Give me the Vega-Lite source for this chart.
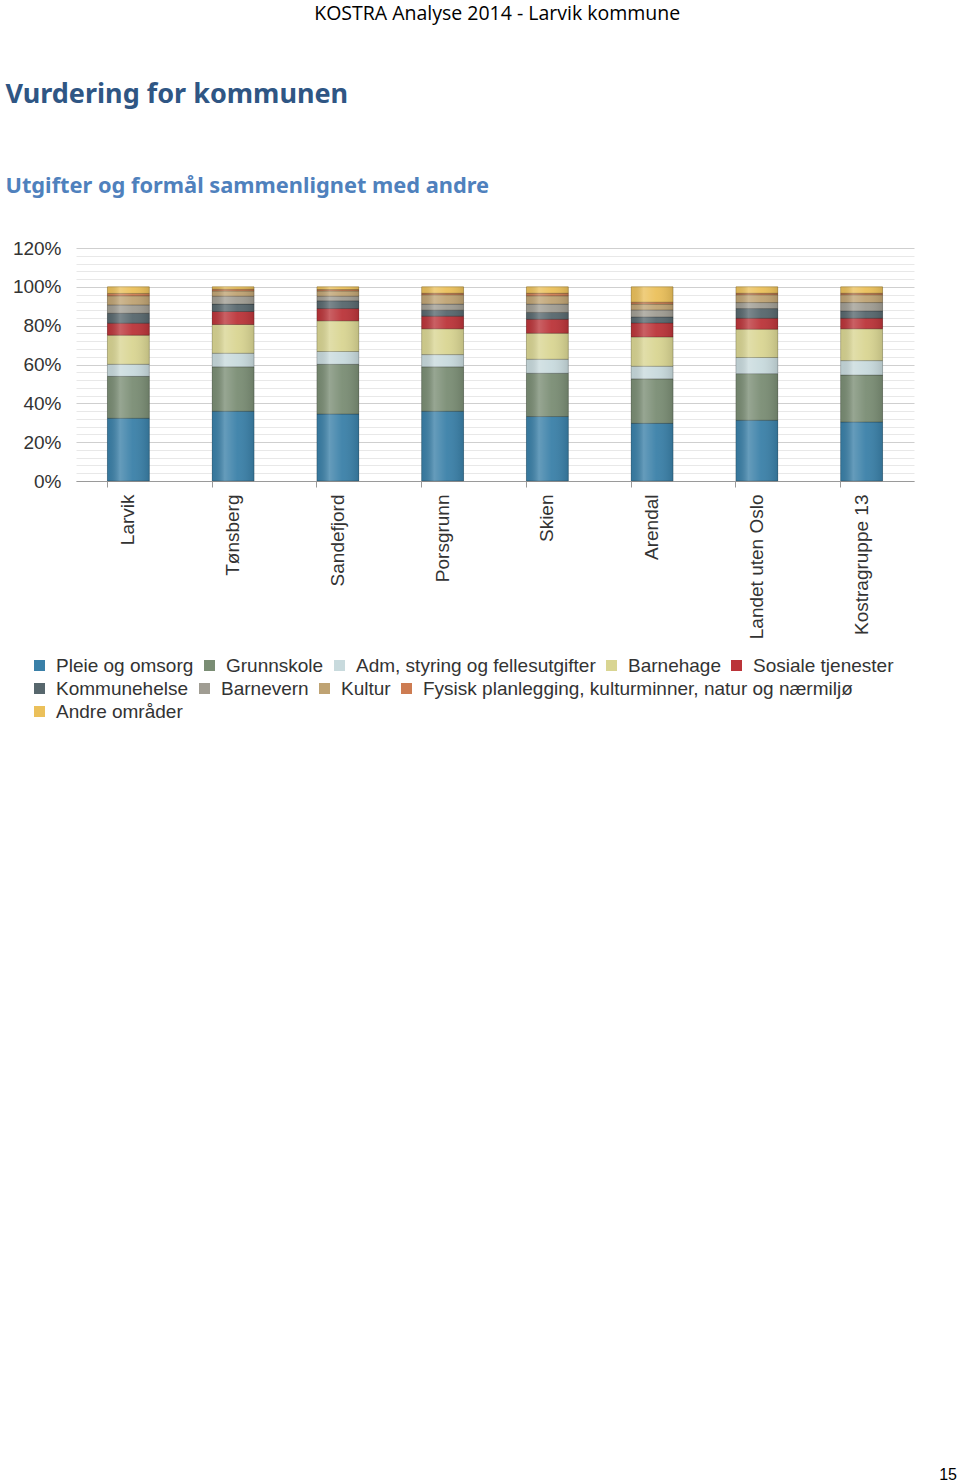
{
  "$schema": "https://vega.github.io/schema/vega-lite/v6.json",
  "background": "white",
  "padding": {"left": 5, "top": 3, "right": 0, "bottom": 0},
  "config": {"view": {"stroke": null}},
  "title": {"text": "KOSTRA Analyse 2014 - Larvik kommune", "anchor": "middle", "font": "Open Sans", "fontSize": 19.5, "fontWeight": "normal", "color": "#000000", "offset": 57, "dx": 16},
  "spacing": 0,
  "datasets": {
    "utgifter": [
      {"kommune": "Larvik", "nr": 1, "kategori": "Pleie og omsorg", "andel": 32.3},
      {"kommune": "Larvik", "nr": 2, "kategori": "Grunnskole", "andel": 21.6},
      {"kommune": "Larvik", "nr": 3, "kategori": "Adm, styring og fellesutgifter", "andel": 6.2},
      {"kommune": "Larvik", "nr": 4, "kategori": "Barnehage", "andel": 15.0},
      {"kommune": "Larvik", "nr": 5, "kategori": "Sosiale tjenester", "andel": 6.2},
      {"kommune": "Larvik", "nr": 6, "kategori": "Kommunehelse", "andel": 5.1},
      {"kommune": "Larvik", "nr": 7, "kategori": "Barnevern", "andel": 4.3},
      {"kommune": "Larvik", "nr": 8, "kategori": "Kultur", "andel": 4.7},
      {"kommune": "Larvik", "nr": 9, "kategori": "Fysisk planlegging, kulturminner, natur og nærmiljø", "andel": 1.2},
      {"kommune": "Larvik", "nr": 10, "kategori": "Andre områder", "andel": 3.4},
      {"kommune": "Tønsberg", "nr": 1, "kategori": "Pleie og omsorg", "andel": 35.9},
      {"kommune": "Tønsberg", "nr": 2, "kategori": "Grunnskole", "andel": 22.9},
      {"kommune": "Tønsberg", "nr": 3, "kategori": "Adm, styring og fellesutgifter", "andel": 7.0},
      {"kommune": "Tønsberg", "nr": 4, "kategori": "Barnehage", "andel": 14.8},
      {"kommune": "Tønsberg", "nr": 5, "kategori": "Sosiale tjenester", "andel": 6.7},
      {"kommune": "Tønsberg", "nr": 6, "kategori": "Kommunehelse", "andel": 3.8},
      {"kommune": "Tønsberg", "nr": 7, "kategori": "Barnevern", "andel": 4.1},
      {"kommune": "Tønsberg", "nr": 8, "kategori": "Kultur", "andel": 2.7},
      {"kommune": "Tønsberg", "nr": 9, "kategori": "Fysisk planlegging, kulturminner, natur og nærmiljø", "andel": 0.9},
      {"kommune": "Tønsberg", "nr": 10, "kategori": "Andre områder", "andel": 1.2},
      {"kommune": "Sandefjord", "nr": 1, "kategori": "Pleie og omsorg", "andel": 34.5},
      {"kommune": "Sandefjord", "nr": 2, "kategori": "Grunnskole", "andel": 25.6},
      {"kommune": "Sandefjord", "nr": 3, "kategori": "Adm, styring og fellesutgifter", "andel": 6.6},
      {"kommune": "Sandefjord", "nr": 4, "kategori": "Barnehage", "andel": 15.8},
      {"kommune": "Sandefjord", "nr": 5, "kategori": "Sosiale tjenester", "andel": 6.3},
      {"kommune": "Sandefjord", "nr": 6, "kategori": "Kommunehelse", "andel": 4.0},
      {"kommune": "Sandefjord", "nr": 7, "kategori": "Barnevern", "andel": 2.4},
      {"kommune": "Sandefjord", "nr": 8, "kategori": "Kultur", "andel": 2.7},
      {"kommune": "Sandefjord", "nr": 9, "kategori": "Fysisk planlegging, kulturminner, natur og nærmiljø", "andel": 0.7},
      {"kommune": "Sandefjord", "nr": 10, "kategori": "Andre områder", "andel": 1.4},
      {"kommune": "Porsgrunn", "nr": 1, "kategori": "Pleie og omsorg", "andel": 35.9},
      {"kommune": "Porsgrunn", "nr": 2, "kategori": "Grunnskole", "andel": 22.9},
      {"kommune": "Porsgrunn", "nr": 3, "kategori": "Adm, styring og fellesutgifter", "andel": 6.3},
      {"kommune": "Porsgrunn", "nr": 4, "kategori": "Barnehage", "andel": 13.3},
      {"kommune": "Porsgrunn", "nr": 5, "kategori": "Sosiale tjenester", "andel": 6.5},
      {"kommune": "Porsgrunn", "nr": 6, "kategori": "Kommunehelse", "andel": 3.1},
      {"kommune": "Porsgrunn", "nr": 7, "kategori": "Barnevern", "andel": 3.1},
      {"kommune": "Porsgrunn", "nr": 8, "kategori": "Kultur", "andel": 4.8},
      {"kommune": "Porsgrunn", "nr": 9, "kategori": "Fysisk planlegging, kulturminner, natur og nærmiljø", "andel": 0.8},
      {"kommune": "Porsgrunn", "nr": 10, "kategori": "Andre områder", "andel": 3.3},
      {"kommune": "Skien", "nr": 1, "kategori": "Pleie og omsorg", "andel": 33.2},
      {"kommune": "Skien", "nr": 2, "kategori": "Grunnskole", "andel": 22.3},
      {"kommune": "Skien", "nr": 3, "kategori": "Adm, styring og fellesutgifter", "andel": 7.2},
      {"kommune": "Skien", "nr": 4, "kategori": "Barnehage", "andel": 13.4},
      {"kommune": "Skien", "nr": 5, "kategori": "Sosiale tjenester", "andel": 7.2},
      {"kommune": "Skien", "nr": 6, "kategori": "Kommunehelse", "andel": 3.5},
      {"kommune": "Skien", "nr": 7, "kategori": "Barnevern", "andel": 4.3},
      {"kommune": "Skien", "nr": 8, "kategori": "Kultur", "andel": 4.3},
      {"kommune": "Skien", "nr": 9, "kategori": "Fysisk planlegging, kulturminner, natur og nærmiljø", "andel": 1.3},
      {"kommune": "Skien", "nr": 10, "kategori": "Andre områder", "andel": 3.3},
      {"kommune": "Arendal", "nr": 1, "kategori": "Pleie og omsorg", "andel": 29.7},
      {"kommune": "Arendal", "nr": 2, "kategori": "Grunnskole", "andel": 22.9},
      {"kommune": "Arendal", "nr": 3, "kategori": "Adm, styring og fellesutgifter", "andel": 6.5},
      {"kommune": "Arendal", "nr": 4, "kategori": "Barnehage", "andel": 15.1},
      {"kommune": "Arendal", "nr": 5, "kategori": "Sosiale tjenester", "andel": 7.2},
      {"kommune": "Arendal", "nr": 6, "kategori": "Kommunehelse", "andel": 3.1},
      {"kommune": "Arendal", "nr": 7, "kategori": "Barnevern", "andel": 3.6},
      {"kommune": "Arendal", "nr": 8, "kategori": "Kultur", "andel": 3.0},
      {"kommune": "Arendal", "nr": 9, "kategori": "Fysisk planlegging, kulturminner, natur og nærmiljø", "andel": 1.0},
      {"kommune": "Arendal", "nr": 10, "kategori": "Andre områder", "andel": 7.9},
      {"kommune": "Landet uten Oslo", "nr": 1, "kategori": "Pleie og omsorg", "andel": 31.3},
      {"kommune": "Landet uten Oslo", "nr": 2, "kategori": "Grunnskole", "andel": 24.0},
      {"kommune": "Landet uten Oslo", "nr": 3, "kategori": "Adm, styring og fellesutgifter", "andel": 8.3},
      {"kommune": "Landet uten Oslo", "nr": 4, "kategori": "Barnehage", "andel": 14.6},
      {"kommune": "Landet uten Oslo", "nr": 5, "kategori": "Sosiale tjenester", "andel": 5.6},
      {"kommune": "Landet uten Oslo", "nr": 6, "kategori": "Kommunehelse", "andel": 5.0},
      {"kommune": "Landet uten Oslo", "nr": 7, "kategori": "Barnevern", "andel": 3.1},
      {"kommune": "Landet uten Oslo", "nr": 8, "kategori": "Kultur", "andel": 4.0},
      {"kommune": "Landet uten Oslo", "nr": 9, "kategori": "Fysisk planlegging, kulturminner, natur og nærmiljø", "andel": 0.8},
      {"kommune": "Landet uten Oslo", "nr": 10, "kategori": "Andre områder", "andel": 3.3},
      {"kommune": "Kostragruppe 13", "nr": 1, "kategori": "Pleie og omsorg", "andel": 30.4},
      {"kommune": "Kostragruppe 13", "nr": 2, "kategori": "Grunnskole", "andel": 24.2},
      {"kommune": "Kostragruppe 13", "nr": 3, "kategori": "Adm, styring og fellesutgifter", "andel": 7.4},
      {"kommune": "Kostragruppe 13", "nr": 4, "kategori": "Barnehage", "andel": 16.4},
      {"kommune": "Kostragruppe 13", "nr": 5, "kategori": "Sosiale tjenester", "andel": 5.4},
      {"kommune": "Kostragruppe 13", "nr": 6, "kategori": "Kommunehelse", "andel": 3.8},
      {"kommune": "Kostragruppe 13", "nr": 7, "kategori": "Barnevern", "andel": 4.3},
      {"kommune": "Kostragruppe 13", "nr": 8, "kategori": "Kultur", "andel": 4.0},
      {"kommune": "Kostragruppe 13", "nr": 9, "kategori": "Fysisk planlegging, kulturminner, natur og nærmiljø", "andel": 0.8},
      {"kommune": "Kostragruppe 13", "nr": 10, "kategori": "Andre områder", "andel": 3.3}
    ]
  },
  "vconcat": [
    {
      "width": 838,
      "height": 233,
      "title": {
        "text": "Vurdering for kommunen",
        "subtitle": "Utgifter og formål sammenlignet med andre",
        "anchor": "start",
        "frame": "bounds",
        "dx": -7,
        "font": "Noto Sans",
        "fontSize": 27,
        "fontWeight": "bold",
        "color": "#2f5684",
        "subtitleFont": "Noto Sans",
        "subtitleFontSize": 21.8,
        "subtitleFontWeight": "bold",
        "subtitleColor": "#4f81bd",
        "subtitlePadding": 67,
        "offset": 40
      },
      "data": {"name": "utgifter"},
      "encoding": {
        "x": {
          "field": "kommune",
          "type": "nominal",
          "sort": ["Larvik", "Tønsberg", "Sandefjord", "Porsgrunn", "Skien", "Arendal", "Landet uten Oslo", "Kostragruppe 13"],
          "scale": {"paddingInner": 0.6, "paddingOuter": 0.3},
          "axis": {
            "title": null,
            "labelAngle": -90,
            "labelFont": "Liberation Sans",
            "labelFontSize": 19,
            "labelColor": "#333333",
            "labelPadding": 7,
            "domainColor": "#9a9a9a",
            "tickColor": "#9a9a9a",
            "tickSize": 6,
            "bandPosition": 0
          }
        },
        "y": {
          "field": "andel",
          "type": "quantitative",
          "stack": "zero",
          "scale": {"domain": [0, 120], "nice": false},
          "axis": {
            "title": null,
            "values": [0, 4, 8, 12, 16, 20, 24, 28, 32, 36, 40, 44, 48, 52, 56, 60, 64, 68, 72, 76, 80, 84, 88, 92, 96, 100, 104, 108, 112, 116, 120],
            "labelExpr": "datum.value % 20 === 0 ? datum.value + '%' : ''",
            "labelFont": "Liberation Sans",
            "labelFontSize": 19,
            "labelColor": "#333333",
            "labelPadding": 15,
            "domain": false,
            "ticks": false,
            "grid": true,
            "gridColor": {"condition": {"test": "datum.value % 20 === 0", "value": "#cfcfcf"}, "value": "#e8e8e8"},
            "gridWidth": 1
          }
        },
        "order": {"field": "nr", "type": "quantitative", "sort": "ascending"}
      },
      "layer": [
        {
          "mark": {"type": "bar"},
          "encoding": {
            "color": {
              "field": "kategori",
              "type": "nominal",
              "sort": ["Pleie og omsorg", "Grunnskole", "Adm, styring og fellesutgifter", "Barnehage", "Sosiale tjenester", "Kommunehelse", "Barnevern", "Kultur", "Fysisk planlegging, kulturminner, natur og nærmiljø", "Andre områder"],
              "scale": {
                "domain": ["Pleie og omsorg", "Grunnskole", "Adm, styring og fellesutgifter", "Barnehage", "Sosiale tjenester", "Kommunehelse", "Barnevern", "Kultur", "Fysisk planlegging, kulturminner, natur og nærmiljø", "Andre områder"],
                "range": ["#3a80a8", "#7a8d74", "#c8dadd", "#d9d592", "#bb3439", "#57676d", "#a09d93", "#bfa373", "#cd7c52", "#ebc05a"]
              },
              "legend": {
                "title": null,
                "orient": "none",
                "legendX": -46,
                "legendY": 431,
                "direction": "horizontal",
                "columns": 4,
                "gridAlign": "none",
                "values": ["Kommunehelse", "Barnevern", "Kultur", "Fysisk planlegging, kulturminner, natur og nærmiljø", "Andre områder"],
                "symbolType": "square",
                "symbolSize": 121,
                "symbolStrokeWidth": 0,
                "symbolOpacity": 1,
                "labelFont": "Liberation Sans",
                "labelFontSize": 19,
                "labelColor": "#333333",
                "labelOffset": 7,
                "labelLimit": 700,
                "columnPadding": 6,
                "rowPadding": 3,
                "padding": 0
              }
            }
          }
        },
        {
          "mark": {"type": "bar", "stroke": "#000000", "strokeOpacity": 0.22, "strokeWidth": 1},
          "encoding": {
            "color": {
              "field": "kategori",
              "type": "nominal",
              "sort": ["Pleie og omsorg", "Grunnskole", "Adm, styring og fellesutgifter", "Barnehage", "Sosiale tjenester", "Kommunehelse", "Barnevern", "Kultur", "Fysisk planlegging, kulturminner, natur og nærmiljø", "Andre områder"],
              "scale": {
                "domain": ["Pleie og omsorg", "Grunnskole", "Adm, styring og fellesutgifter", "Barnehage", "Sosiale tjenester", "Kommunehelse", "Barnevern", "Kultur", "Fysisk planlegging, kulturminner, natur og nærmiljø", "Andre områder"],
                "range": ["#3a80a8", "#7a8d74", "#c8dadd", "#d9d592", "#bb3439", "#57676d", "#a09d93", "#bfa373", "#cd7c52", "#ebc05a"]
              },
              "legend": {
                "title": null,
                "orient": "none",
                "legendX": -46,
                "legendY": 408,
                "direction": "horizontal",
                "columns": 5,
                "gridAlign": "none",
                "values": ["Pleie og omsorg", "Grunnskole", "Adm, styring og fellesutgifter", "Barnehage", "Sosiale tjenester"],
                "symbolType": "square",
                "symbolSize": 121,
                "symbolStrokeWidth": 0,
                "symbolOpacity": 1,
                "labelFont": "Liberation Sans",
                "labelFontSize": 19,
                "labelColor": "#333333",
                "labelOffset": 7,
                "labelLimit": 700,
                "columnPadding": 6,
                "rowPadding": 3,
                "padding": 0
              }
            }
          }
        },
        {
          "mark": {
            "type": "bar",
            "fill": {
              "gradient": "linear",
              "x1": 0, "y1": 0, "x2": 1, "y2": 0,
              "stops": [
                {"offset": 0, "color": "rgba(0,0,0,0.06)"},
                {"offset": 0.3, "color": "rgba(255,255,255,0.22)"},
                {"offset": 0.6, "color": "rgba(255,255,255,0.05)"},
                {"offset": 1, "color": "rgba(0,0,0,0.12)"}
              ]
            }
          },
          "encoding": {"detail": {"field": "kategori", "type": "nominal"}}
        }
      ],
      "resolve": {"scale": {"color": "independent"}, "legend": {"color": "independent"}}
    },
    {
      "width": 881,
      "height": 745,
      "data": {"values": []},
      "mark": {"type": "text"},
      "encoding": {},
      "title": {"text": "15", "orient": "bottom", "anchor": "end", "frame": "group", "font": "Liberation Sans", "fontSize": 16, "fontWeight": "normal", "color": "#000000", "offset": 0}
    }
  ]
}
